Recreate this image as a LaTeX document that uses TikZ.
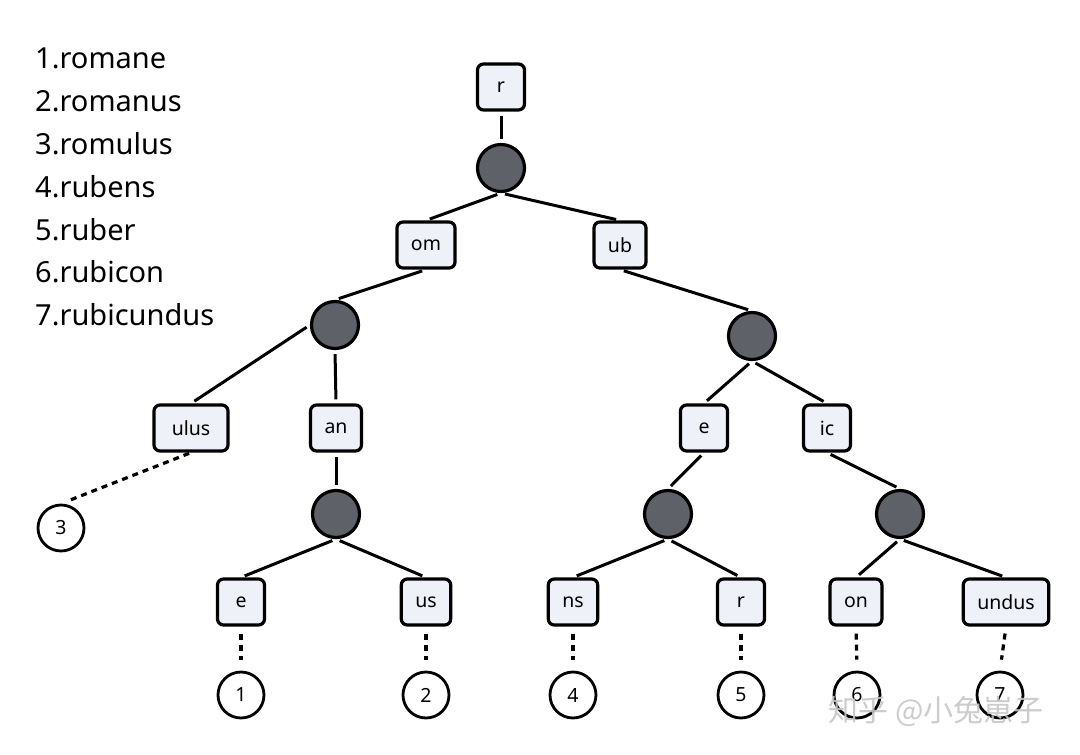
\documentclass[tikz,border=0pt]{standalone}
\usepackage{fontspec}
\setmainfont{Noto Sans}
\newfontfamily\cjkfont{Noto Sans CJK SC}
\definecolor{boxfill}{HTML}{EEF1F8}
\definecolor{dotfill}{HTML}{5F6169}
\begin{document}
\begin{tikzpicture}[x=1pt,y=-1pt,
  every node/.style={font=\fontsize{19.5}{22}\selectfont},
  lbl/.style={draw=black,line width=3.2pt,fill=boxfill,rounded corners=6pt,minimum width=47pt,minimum height=46pt,inner xsep=14pt,inner ysep=0pt},
  knot/.style={circle,draw=black,line width=3.2pt,fill=dotfill,minimum size=47pt,inner sep=0pt},
  leaf/.style={circle,draw=black,line width=2.8pt,fill=white,minimum size=46pt,inner sep=0pt},
  edge/.style={line width=3pt,shorten >=4pt,shorten <=4pt},
  dedge/.style={line width=3.2pt,dash pattern=on 6pt off 5pt,shorten <=7pt,shorten >=11pt},
  item/.style={anchor=west,font=\fontsize{29}{32}\selectfont,inner sep=0pt}
]
\useasboundingbox (0,0) rectangle (1080,755);
% word list
\node[item] (w1) at (35,58) {1.romane};
\node[item] (w2) at (35,101) {2.romanus};
\node[item] (w3) at (35,144) {3.romulus};
\node[item] (w4) at (35,187) {4.rubens};
\node[item] (w5) at (35,230) {5.ruber};
\node[item] (w6) at (35,272) {6.rubicon};
\node[item] (w7) at (35,315) {7.rubicundus};
% tree
\node[lbl] (r) at (501,87) {r};
\node[knot] (c0) at (501,168) {};
\node[lbl] (om) at (426,245) {om};
\node[lbl] (ub) at (620,245) {ub};
\node[knot] (c1) at (335,325) {};
\node[knot] (c2) at (752,336) {};
\node[lbl,minimum width=74pt] (ulus) at (191,428) {ulus};
\node[lbl] (an) at (336,428) {an};
\node[lbl] (e) at (704,428) {e};
\node[lbl] (ic) at (827,428) {ic};
\node[knot] (c3) at (336,514) {};
\node[knot] (c4) at (668,514) {};
\node[knot] (c5) at (900,514) {};
\node[lbl] (e1) at (241,602) {e};
\node[lbl] (us) at (426,602) {us};
\node[lbl] (ns) at (573,602) {ns};
\node[lbl] (r2) at (741,602) {r};
\node[lbl] (on) at (856,602) {on};
\node[lbl] (undus) at (1006,602) {undus};
% leaves
\node[leaf] (l3) at (61,528) {3};
\node[leaf] (l1) at (241,695) {1};
\node[leaf] (l2) at (426,695) {2};
\node[leaf] (l4) at (573,695) {4};
\node[leaf] (l5) at (741,695) {5};
\node[leaf] (l6) at (857,695) {6};
\node[leaf] (l7) at (1000,695) {7};
% edges
\draw[edge] (r.south) -- (c0.north);
\draw[edge] (c0.south) -- (om.north);
\draw[edge] (c0.south) -- (ub.north);
\draw[edge] (om.south) -- (c1.north);
\draw[edge] (c1.west) -- (ulus.north);
\draw[edge] (c1.south) -- (an.north);
\draw[edge] (ub.south) -- (c2.north);
\draw[edge] (c2.south) -- (e.north);
\draw[edge] (c2.south) -- (ic.north);
\draw[edge] (an.south) -- (c3.north);
\draw[edge] (c3.south) -- (e1.north);
\draw[edge] (c3.south) -- (us.north);
\draw[edge] (e.south) -- (c4.north);
\draw[edge] (c4.south) -- (ns.north);
\draw[edge] (c4.south) -- (r2.north);
\draw[edge] (ic.south) -- (c5.north);
\draw[edge] (c5.south) -- (on.north);
\draw[edge] (c5.south) -- (undus.north);
% terminal links
\draw[dedge,shorten <=2pt,shorten >=6pt] (ulus.south) -- (l3.north);
\draw[dedge] (e1.south) -- (l1.north);
\draw[dedge] (us.south) -- (l2.north);
\draw[dedge] (ns.south) -- (l4.north);
\draw[dedge] (r2.south) -- (l5.north);
\draw[dedge] (on.south) -- (l6.north);
\draw[dedge] (undus.south) -- (l7.north);
% watermark
\node[font=\cjkfont\fontsize{30}{32}\selectfont,text=gray!45,opacity=0.9] (wm) at (936,711) {知乎 @小兔崽子};
\end{tikzpicture}
\end{document}
